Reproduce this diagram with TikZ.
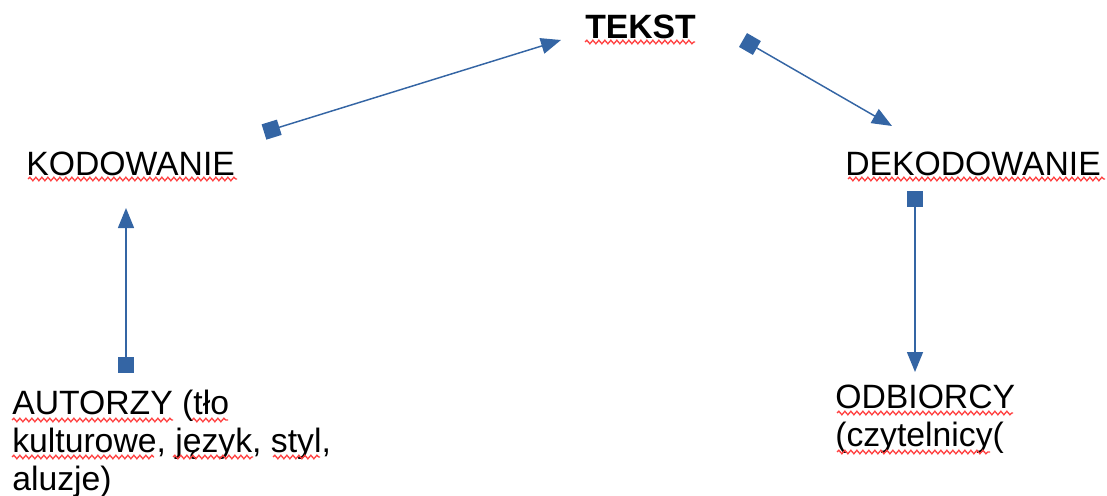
\documentclass[tikz,border=0pt]{standalone}
\usepackage{fontspec}
\setmainfont{Liberation Sans}
\usetikzlibrary{arrows.meta,decorations.pathmorphing}
\definecolor{lineblue}{HTML}{3465A4}
\definecolor{spellred}{HTML}{FF4040}
\tikzset{
  lbl/.style={inner sep=0pt, anchor=base west, font=\fontsize{25.3}{28.2}\selectfont},
  conn/.style={draw=lineblue, line width=1.1pt,
    {Square[length=12pt,width=12pt]}-{Triangle[length=15pt,width=12pt]}},
  squig/.style={draw=spellred, line width=1pt, decorate,
    decoration={snake, segment length=4.5pt, amplitude=1.3pt}}
}
\begin{document}
\begin{tikzpicture}[x=0.75pt,y=-0.75pt]
\useasboundingbox (0,0) rectangle (1107,496);
% texts (multi-line nodes: base = baseline of last line)
\node[lbl, font=\fontsize{25.3}{28.2}\selectfont\bfseries] (tekst) at (585,38) {TEKST};
\node[lbl] (kod) at (26,175) {KODOWANIE};
\node[lbl] (dekod) at (845,175) {DEKODOWANIE};
\node[lbl, align=left] (aut) at (12,490) {AUTORZY (tło\\kulturowe, język, styl,\\aluzje)};
\node[lbl, align=left] (odb) at (835,446) {ODBIORCY\\(czytelnicy(};
% connector end points
\coordinate (c1s) at (264,132);
\coordinate (c1e) at (561,40);
\coordinate (c2s) at (743,40);
\coordinate (c2e) at (892,126);
\coordinate (c3s) at (126,373);
\coordinate (c3e) at (126,208);
\coordinate (c4s) at (915,191);
\coordinate (c4e) at (915,372);
\draw[conn] (c1s) -- (c1e);
\draw[conn] (c2s) -- (c2e);
\draw[conn] (c3s) -- (c3e);
\draw[conn] (c4s) -- (c4e);
% spell-check underlines
\draw[squig] (585,42) -- (695,42);
\draw[squig] (28,179) -- (237,179);
\draw[squig] (848,179) -- (1105,179);
\draw[squig] (12,420) -- (173,420);
\draw[squig] (192,420) -- (228,420);
\draw[squig] (12,457) -- (154,457);
\draw[squig] (173,457) -- (253,457);
\draw[squig] (273,457) -- (320,457);
\draw[squig] (837,413) -- (1013,413);
\draw[squig] (837,452) -- (990,452);
\end{tikzpicture}
\end{document}
